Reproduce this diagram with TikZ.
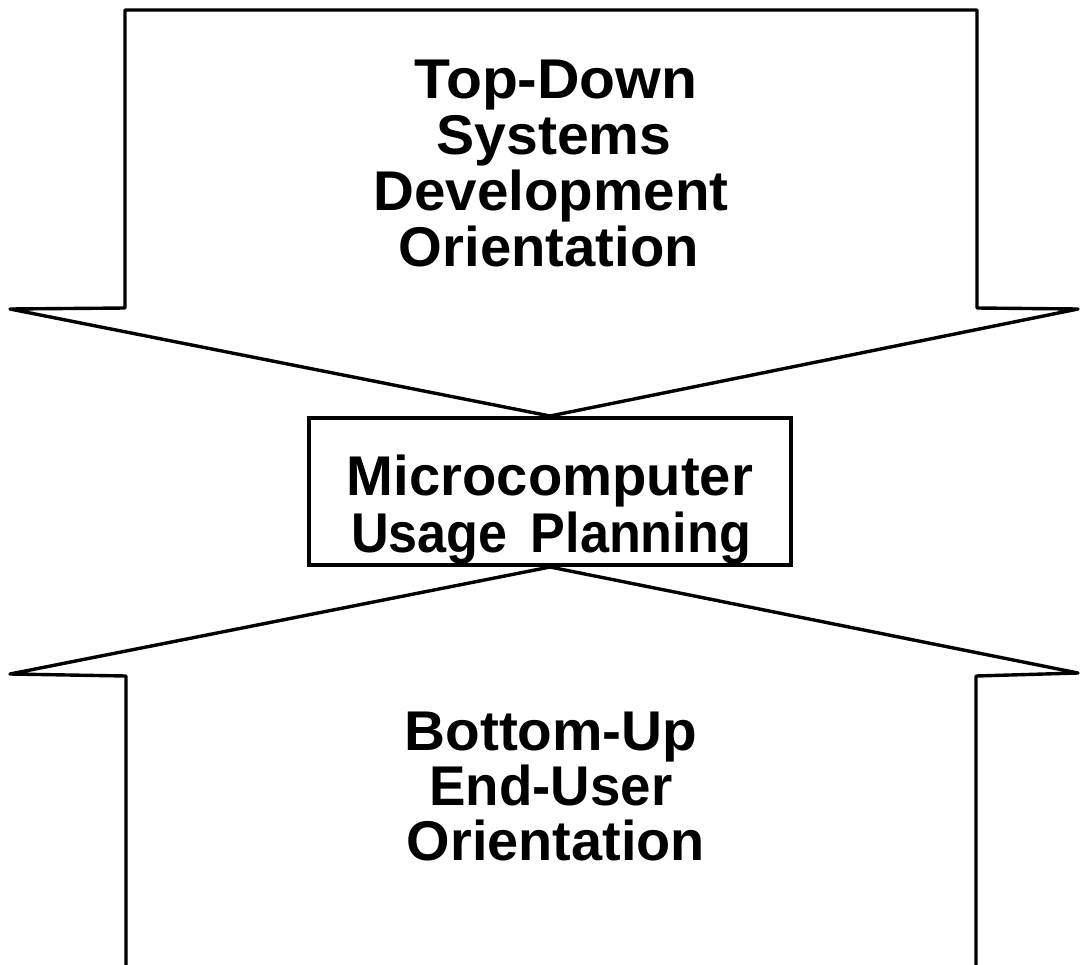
\documentclass[tikz,border=0pt]{standalone}
\usepackage{fontspec}
\setmainfont{Liberation Sans}
\newcommand{\fitw}[2]{\resizebox{#1pt}{\height}{#2}}
\begin{document}
\begin{tikzpicture}[x=1pt,y=-1pt,
  outline/.style={line width=3.4pt, line join=round, line cap=round},
  lbl/.style={anchor=base, inner sep=0pt, font=\bfseries\fontsize{56}{58}\selectfont},
  boxstyle/.style={draw, line width=3.4pt, minimum width=482pt, minimum height=147pt, inner sep=0pt}]
\useasboundingbox (0,0) rectangle (1081,964);
% top arrow
\coordinate (ttl) at (125,10);
\coordinate (ttr) at (977,10);
\coordinate (tsr) at (977,308);
\coordinate (ttipr) at (1078,309);
\coordinate (tpt) at (550,416);
\coordinate (ttipl) at (10,309);
\coordinate (tsl) at (125,308);
\draw[outline] (tsl) -- (ttl) -- (ttr) -- (tsr) -- (ttipr) -- (tpt) -- (ttipl) -- cycle;
% bottom arrow
\coordinate (bbl) at (126,970);
\coordinate (bsl) at (126,676);
\coordinate (btipl) at (10,674);
\coordinate (bpt) at (550,567);
\coordinate (btipr) at (1078,673);
\coordinate (bsr) at (976,676);
\coordinate (bbr) at (976,970);
\draw[outline] (bbl) -- (bsl) -- (btipl) -- (bpt) -- (btipr) -- (bsr) -- (bbr);
% centre box
\node[boxstyle] (box) at (550,491.5) {};
% texts
\node[lbl] (t1) at (556,98) {\fitw{283}{Top-Down}};
\node[lbl] (t2) at (554,154) {\fitw{235}{Systems}};
\node[lbl] (t3) at (551,210) {\fitw{355}{Development}};
\node[lbl] (t4) at (549,266) {\fitw{300}{Orientation}};
\node[lbl] (m1) at (550,495) {\fitw{406}{Microcomputer}};
\node[lbl] (m2) at (551,552) {\fitw{400}{Usage\hspace{0.45em}Planning}};
\node[lbl] (b1) at (551,750) {\fitw{293}{Bottom-Up}};
\node[lbl] (b2) at (551,805) {\fitw{243}{End-User}};
\node[lbl] (b3) at (556,860) {\fitw{298}{Orientation}};
\end{tikzpicture}
\end{document}
